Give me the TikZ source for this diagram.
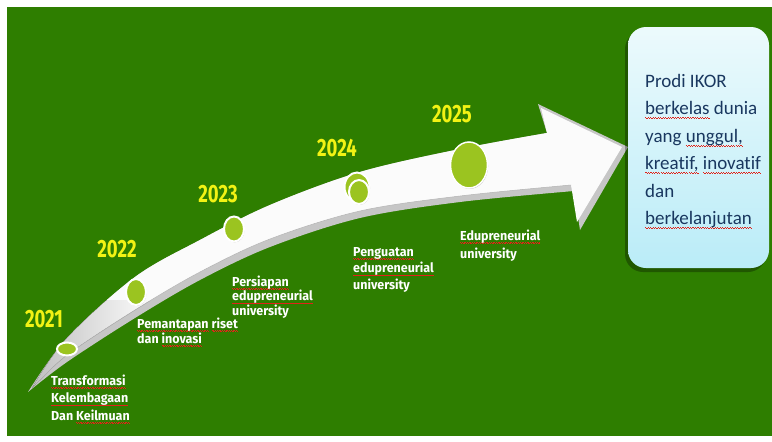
\documentclass[tikz,border=0pt]{standalone}
\usepackage{fontspec}
\setmainfont{Carlito}[Ligatures=NoCommon]
\newfontfamily\yearfont[FakeStretch=0.74]{Fira Sans}
\newfontfamily\tagfont[FakeStretch=0.96]{Fira Sans}
\usetikzlibrary{shapes.geometric,shadows}
\definecolor{bggreen}{RGB}{46,126,0}
\definecolor{dotgreen}{RGB}{155,196,32}
\definecolor{yearyellow}{RGB}{242,242,20}
\definecolor{navytext}{RGB}{25,55,95}
\definecolor{spellred}{RGB}{225,35,25}
% red wavy line under a word
\newsavebox\splbox
\newcommand\splwave{\hbox{\rule[0pt]{0.065em}{0.045em}\rule[-0.045em]{0.065em}{0.045em}}}
\newcommand\spl[1]{\sbox\splbox{#1}\leavevmode
  \rlap{\raisebox{-0.2em}{\textcolor{spellred}{\hbox to \wd\splbox{\xleaders\splwave\hfil}}}}%
  \usebox\splbox}
\tikzset{%
  % Specifications for style of nodes:
    arrowrim/.style = {fill=gray!45},
   arrowface/.style = {fill=white!97!gray},
     rimline/.style = {draw=gray!60, line width=0.5pt},
   milestone/.style = {ellipse, fill=dotgreen, draw=white, line width=2pt,
                       inner sep=0pt,
                       drop shadow={shadow xshift=0.6pt, shadow yshift=-0.9pt,
                                    fill=gray!70, opacity=0.7}},
   yearlabel/.style = {text=yearyellow, inner sep=0pt,
                       font=\yearfont\bfseries\fontsize{25}{26}\selectfont},
   % base anchor of a multi-line node = last line
   steplabel/.style = {text=white, align=left, anchor=base west, inner sep=0pt,
                       font=\tagfont\bfseries\fontsize{13}{#1}\selectfont},
     goalbox/.style = {rectangle, rounded corners=18pt,
                       top color={rgb,255:red,236;green,250;blue,252},
                       bottom color={rgb,255:red,186;green,236;blue,248},
                       minimum width=141pt, minimum height=241pt,
                       drop shadow={shadow xshift=-3pt, shadow yshift=-4pt,
                                    fill=black, opacity=0.3}},
    goaltext/.style = {text=navytext, align=left, anchor=base west, inner sep=0pt,
                       font=\fontsize{19}{27.5}\selectfont},
}

\begin{document}
\begin{tikzpicture}[x=1pt, y=-1pt]
\useasboundingbox (0,0) rectangle (772,442);
\fill[bggreen] (7,7) rectangle (772,436);

% the curved arrow
\fill[arrowrim] plot[smooth, tension=0.55] coordinates {(28,392) (67,338) (135,277) (200,240) (270,205) (360,172) (460,149) (547,133)}
  -- (538,104) -- (628,147) -- (580,230) -- (574,191)
  -- plot[smooth, tension=0.55] coordinates {(574,191) (460,202) (360,218) (270,247) (200,280) (135,318) (67,362) (28,392)} -- cycle;
\begin{scope}
\clip plot[smooth, tension=0.55] coordinates {(32,388) (67,338) (135,277) (200,240) (270,205) (360,172) (460,149) (547,133)}
  -- (541,108) -- (622,147) -- (577,222) -- (571,185)
  -- plot[smooth, tension=0.55] coordinates {(571,185) (460,196) (360,211) (270,239) (200,272) (135,310) (67,355) (32,388)} -- cycle;
\fill[arrowface] (20,90) rectangle (640,400);
\fill[left color=gray!55, right color=white!97!gray] (20,300) rectangle (150,400);
\end{scope}
\draw[rimline] plot[smooth, tension=0.55] coordinates {(571,185) (460,196) (360,211) (270,239) (200,272) (135,310) (67,355) (40,381)};

% milestones
\node (m2021) [milestone, minimum width=20, minimum height=13] at (67,349) {};
\node (m2022) [milestone, minimum width=20, minimum height=26] at (136,292) {};
\node (m2023) [milestone, minimum width=20, minimum height=25] at (234,229) {};
\node (m2024a) [milestone, minimum width=25, minimum height=29] at (357,187) {};
\node (m2024) [milestone, minimum width=20, minimum height=24] at (359,192) {};
\node (m2025) [milestone, minimum width=37, minimum height=46, line width=1.5pt] at (469,165) {};

% years
\node (y2021) [yearlabel] at (44,319) {2021};
\node (y2022) [yearlabel] at (117,249) {2022};
\node (y2023) [yearlabel] at (218,194) {2023};
\node (y2024) [yearlabel] at (337,148) {2024};
\node (y2025) [yearlabel] at (452,114) {2025};

% steps
\node (l2021) [steplabel=17.5] at (51,420) {\spl{Transformasi}\\\spl{Kelembagaan}\\Dan \spl{Keilmuan}};
\node (l2022) [steplabel=13] at (137,343) {\spl{Pemantapan} \spl{riset}\\dan \spl{inovasi}};
\node (l2023) [steplabel=14.5] at (232,315) {\spl{Persiapan}\\\spl{edupreneurial}\\university};
\node (l2024) [steplabel=16.5] at (353,289) {\spl{Penguatan}\\\spl{edupreneurial}\\university};
\node (l2025) [steplabel=18] at (460,258) {\spl{Edupreneurial}\\university};

% goal
\node (goal) [goalbox] at (698.5,147.5) {};
\node (goaltxt) [goaltext] at (645,224.5) {Prodi IKOR\\\spl{berkelas} dunia\\yang \spl{unggul,}\\\spl{kreatif,} \spl{inovatif}\\dan\\\spl{berkelanjutan}};
\end{tikzpicture}
\end{document}
